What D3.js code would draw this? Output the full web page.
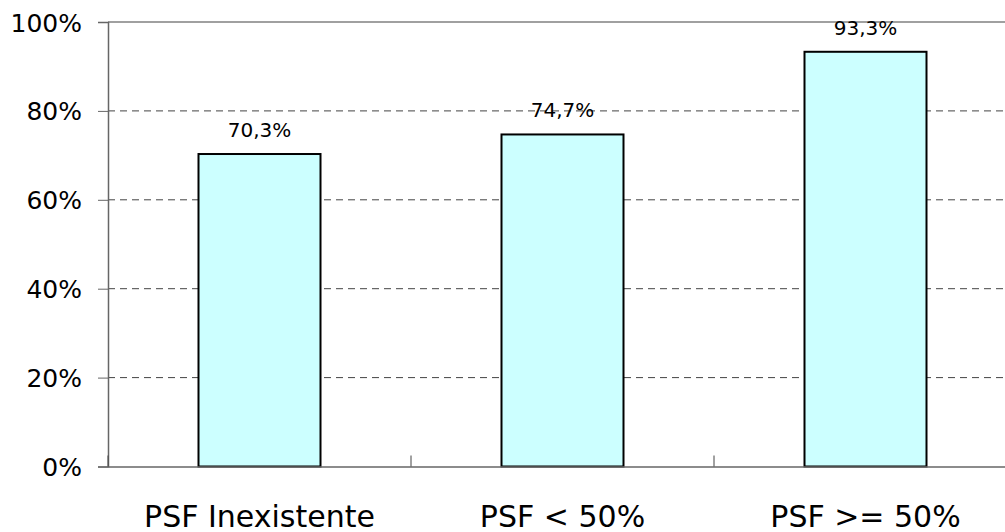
<!DOCTYPE html>
<html>
<head>
<meta charset="utf-8">
<script src="https://cdn.jsdelivr.net/npm/d3@7"></script>
<style>
  body { margin: 0; background: #fff; }
  svg { display: block; }
  text { font-family: "DejaVu Sans", Verdana, sans-serif; fill: #000; }
</style>
</head>
<body>
<svg id="chart" width="1005" height="532"></svg>
<script>
// data
var categories = ["PSF Inexistente", "PSF < 50%", "PSF >= 50%"];
var values = [70.3, 74.7, 93.3];
var valueLabels = ["70,3%", "74,7%", "93,3%"];
var yTicks = [0, 20, 40, 60, 80, 100];

var svg = d3.select("#chart");

var plotLeft = 108, plotTop = 22, plotBottom = 466.5, plotRight = 1017;

var x = d3.scaleBand()
    .domain(categories)
    .range([plotLeft, plotRight])
    .paddingInner(0)
    .paddingOuter(0);

var y = d3.scaleLinear()
    .domain([0, 100])
    .range([plotBottom, plotTop]);

// dashed gridlines
svg.append("g")
    .selectAll("line")
    .data(yTicks.filter(function(d) { return d > 0 && d < 100; }))
    .enter().append("line")
    .attr("x1", plotLeft)
    .attr("x2", plotRight)
    .attr("y1", function(d) { return y(d); })
    .attr("y2", function(d) { return y(d); })
    .attr("stroke", "#444")
    .attr("stroke-width", 1)
    .attr("stroke-dasharray", "7,5");

// top border at 100%
svg.append("line")
    .attr("x1", plotLeft).attr("x2", plotRight)
    .attr("y1", y(100)).attr("y2", y(100))
    .attr("stroke", "#808080")
    .attr("stroke-width", 1.5);

// bars
var barW = 122;
svg.append("g")
    .selectAll("rect")
    .data(values)
    .enter().append("rect")
    .attr("x", function(d, i) { return x(categories[i]) + x.bandwidth() / 2 - barW / 2; })
    .attr("y", function(d) { return y(d); })
    .attr("width", barW)
    .attr("height", function(d) { return y(0) - y(d); })
    .attr("fill", "#ccffff")
    .attr("stroke", "#000")
    .attr("stroke-width", 2);

// value labels
svg.append("g")
    .selectAll("text")
    .data(values)
    .enter().append("text")
    .attr("x", function(d, i) { return x(categories[i]) + x.bandwidth() / 2; })
    .attr("y", function(d) { return y(d) - 17; })
    .attr("text-anchor", "middle")
    .style("font-size", "20px")
    .text(function(d, i) { return valueLabels[i]; });

// y axis
var yAxis = d3.axisLeft(y)
    .tickValues(yTicks)
    .tickSize(10)
    .tickPadding(16)
    .tickFormat(function(d) { return d + "%"; });

var gy = svg.append("g")
    .attr("transform", "translate(" + plotLeft + ",0)")
    .call(yAxis);
gy.select(".domain").attr("stroke", "#666").attr("stroke-width", 1.5);
gy.selectAll(".tick line").attr("stroke", "#666");
gy.selectAll(".tick text")
    .attr("dy", "0.36em")
    .style("font-size", "25px")
    .style("font-family", "'DejaVu Sans', Verdana, sans-serif");

// x axis
var xAxis = d3.axisBottom(x)
    .tickSize(0)
    .tickPadding(0);

var gx = svg.append("g")
    .attr("transform", "translate(0," + plotBottom + ")")
    .call(xAxis);
gx.select(".domain").attr("stroke", "#666").attr("stroke-width", 1.5);
gx.selectAll(".tick text")
    .attr("y", 60.5)
    .attr("dy", 0)
    .style("font-size", "30px")
    .style("font-family", "'DejaVu Sans', Verdana, sans-serif");

// category boundary ticks (pointing up into plot)
var bounds = categories.map(function(c) { return x(c); });
svg.append("g")
    .selectAll("line")
    .data(bounds)
    .enter().append("line")
    .attr("x1", function(d) { return d; })
    .attr("x2", function(d) { return d; })
    .attr("y1", plotBottom)
    .attr("y2", plotBottom - 11)
    .attr("stroke", "#444")
    .attr("stroke-width", 1);
</script>
</body>
</html>
